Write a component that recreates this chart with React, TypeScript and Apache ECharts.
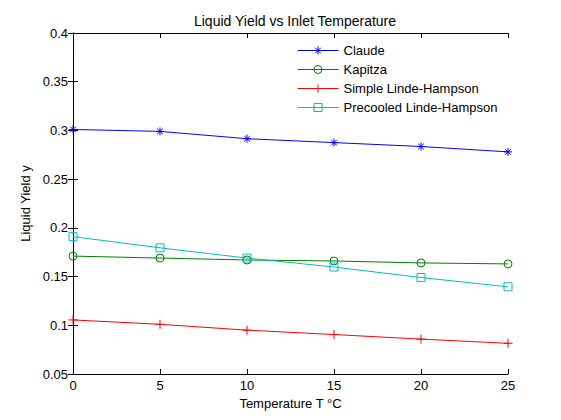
import React, { useEffect, useRef } from "react";
import * as echarts from "echarts";

const temperatures = [0, 5, 10, 15, 20, 25];
const claude = [0.301, 0.299, 0.2915, 0.2875, 0.2835, 0.278];
const kapitza = [0.171, 0.169, 0.167, 0.166, 0.164, 0.163];
const simpleLinde = [0.1055, 0.101, 0.095, 0.0905, 0.0858, 0.0815];
const precooledLinde = [0.191, 0.1795, 0.169, 0.1598, 0.149, 0.1395];
const seriesNames = ["Claude", "Kapitza", "Simple Linde-Hampson", "Precooled Linde-Hampson"];

const ASTERISK = "path://M0,-1L0,1M-1,0L1,0M-0.7,-0.7L0.7,0.7M-0.7,0.7L0.7,-0.7";
const PLUS = "path://M0,-1L0,1M-1,0L1,0";
const CIRCLE = "path://M1,0A1,1,0,1,1,-1,0A1,1,0,1,1,1,0Z";
const SQUARE = "path://M-1,-1L1,-1L1,1L-1,1Z";

const FONT = "'Liberation Sans', Arial, Helvetica, sans-serif";

function pairs(values: number[]) {
  return temperatures.map((t, i) => [t, values[i]]);
}

function makeSeries(name: string, values: number[], color: string, symbol: string, size: number) {
  return {
    name,
    type: "line",
    data: pairs(values),
    symbol,
    symbolSize: size,
    showAllSymbol: true,
    lineStyle: { color, width: 1 },
    itemStyle: { color: "none", borderColor: color, borderWidth: 1 },
    emphasis: { disabled: true },
  };
}

export default function App() {
  const ref = useRef<HTMLDivElement>(null);

  useEffect(() => {
    if (!ref.current) return;
    const chart = echarts.init(ref.current, undefined, { renderer: "svg" });
    const axisLine = { show: true, lineStyle: { color: "#000", width: 1 } };
    const tick = { show: true, inside: true, length: 5, lineStyle: { color: "#000", width: 1 } };
    const fmt = (v: number) => String(+v.toFixed(2));
    chart.setOption({
      animation: false,
      backgroundColor: "#fff",
      title: {
        text: "Liquid Yield vs Inlet Temperature",
        left: 290,
        top: 9,
        textAlign: "center",
        textStyle: { fontSize: 14, fontWeight: "normal", color: "#000", fontFamily: FONT },
      },
      legend: {
        data: seriesNames,
        orient: "vertical",
        left: 297,
        top: 43,
        itemWidth: 41,
        itemHeight: 10,
        itemGap: 4,
        padding: 0,
        itemStyle: { borderWidth: 1 },
        lineStyle: { width: 1 },
        textStyle: { fontSize: 13, color: "#000", fontFamily: FONT, lineHeight: 15 },
      },
      grid: { left: 73, right: 53, top: 33, bottom: 46, containLabel: false },
      xAxis: [
        {
          type: "value",
          min: 0,
          max: 25,
          interval: 5,
          position: "bottom",
          name: "Temperature T °C",
          nameLocation: "middle",
          nameGap: 23,
          nameTextStyle: { fontSize: 13, color: "#000", fontFamily: FONT },
          axisLine,
          axisTick: tick,
          axisLabel: { fontSize: 13, color: "#000", fontFamily: FONT, margin: 5 },
          splitLine: { show: false },
        },
        {
          type: "value",
          min: 0,
          max: 25,
          interval: 5,
          position: "top",
          axisLine,
          axisTick: tick,
          axisLabel: { show: false },
          splitLine: { show: false },
        },
      ],
      yAxis: [
        {
          type: "value",
          min: 0.05,
          max: 0.4,
          interval: 0.05,
          position: "left",
          name: "Liquid Yield y",
          nameLocation: "middle",
          nameGap: 37,
          nameTextStyle: { fontSize: 13, color: "#000", fontFamily: FONT },
          axisLine,
          axisTick: tick,
          axisLabel: { fontSize: 13, color: "#000", fontFamily: FONT, margin: 5, formatter: fmt },
          splitLine: { show: false },
        },
        {
          type: "value",
          min: 0.05,
          max: 0.4,
          interval: 0.05,
          position: "right",
          axisLine,
          axisTick: tick,
          axisLabel: { show: false },
          splitLine: { show: false },
        },
      ],
      series: [
        makeSeries(seriesNames[0], claude, "#0000ff", ASTERISK, 8),
        makeSeries(seriesNames[1], kapitza, "#008000", CIRCLE, 8),
        makeSeries(seriesNames[2], simpleLinde, "#ff0000", PLUS, 9),
        makeSeries(seriesNames[3], precooledLinde, "#00bfbf", SQUARE, 8),
      ],
    });
    return () => chart.dispose();
  }, []);

  return (
    <div
      ref={ref}
      style={{ position: "fixed", left: 0, top: 0, width: 561, height: 420, background: "#fff" }}
    />
  );
}
